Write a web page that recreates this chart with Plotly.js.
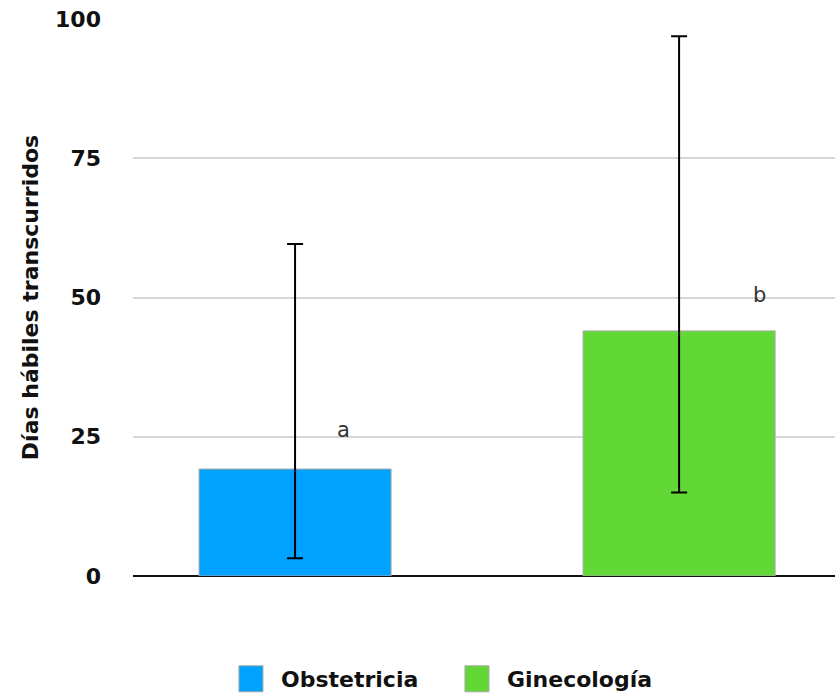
<!DOCTYPE html>
<html>
<head>
<meta charset="utf-8">
<script src="https://cdn.plot.ly/plotly-3.0.1.min.js"></script>
<style>html,body{margin:0;padding:0;background:#fff;}#chart{width:835px;height:700px;}</style>
</head>
<body>
<div id="chart"></div>
<script>
const categories = ["Obstetricia", "Ginecología"];
const means = [19.2, 44.0];
const errPlus = [40.4, 52.9];
const errMinus = [16.0, 29.0];
const letters = ["a", "b"];
const letterY = [26.2, 50.5];
const colors = ["#00a2ff", "#61d836"];
const yTicks = [0, 25, 50, 75, 100];

const FONT = "DejaVu Sans, Verdana, sans-serif";

const traces = categories.map((c, i) => ({
  type: "bar",
  name: c,
  x: [i],
  y: [means[i]],
  width: 0.5,
  marker: {color: colors[i], line: {color: "#a8a8a8", width: 1}},
  error_y: {type: "data", symmetric: false, array: [errPlus[i]], arrayminus: [errMinus[i]],
            color: "#000", thickness: 2, width: 8},
  hoverinfo: "skip"
}));

const annotations = letters.map((t, i) => ({
  x: i + (i === 0 ? 0.125 : 0.21), y: letterY[i], xref: "x", yref: "y",
  text: t, showarrow: false,
  font: {family: FONT, size: 21, color: "#333"}
}));

const layout = {
  width: 835, height: 700,
  margin: {l: 133, r: 0, t: 19, b: 123, pad: 0},
  paper_bgcolor: "#fff", plot_bgcolor: "#fff",
  showlegend: true,
  barmode: "overlay",
  legend: {orientation: "h", x: 0.1253, xanchor: "left", y: -0.147, yanchor: "top",
           font: {family: FONT, size: 22, color: "#111", weight: "bold"},
           itemwidth: 50, entrywidth: 161, entrywidthmode: "pixels", traceorder: "normal"},
  xaxis: {range: [-0.422, 1.406], showticklabels: false, showgrid: false, zeroline: false,
          showline: false, ticks: "", fixedrange: true},
  yaxis: {range: [0, 100], tickvals: yTicks, ticktext: yTicks.map(String),
          showgrid: true, gridcolor: "#d6d6d6", gridwidth: 2,
          zeroline: true, zerolinecolor: "#111", zerolinewidth: 2,
          showline: false, ticks: "", ticklabelstandoff: 31,
          tickfont: {family: FONT, size: 22, color: "#111", weight: "bold"},
          title: {text: "Días hábiles transcurridos", standoff: 10,
                  font: {family: FONT, size: 22, color: "#111", weight: "bold"}},
          automargin: false, fixedrange: true},
  annotations: annotations
};

Plotly.newPlot("chart", traces, layout, {displayModeBar: false, staticPlot: true}).then(() => {
  document.querySelectorAll("#chart .legend .legendpoints path").forEach(p => {
    p.setAttribute("d", "M12,13H-12V-13H12Z");
  });
});
</script>
</body>
</html>
